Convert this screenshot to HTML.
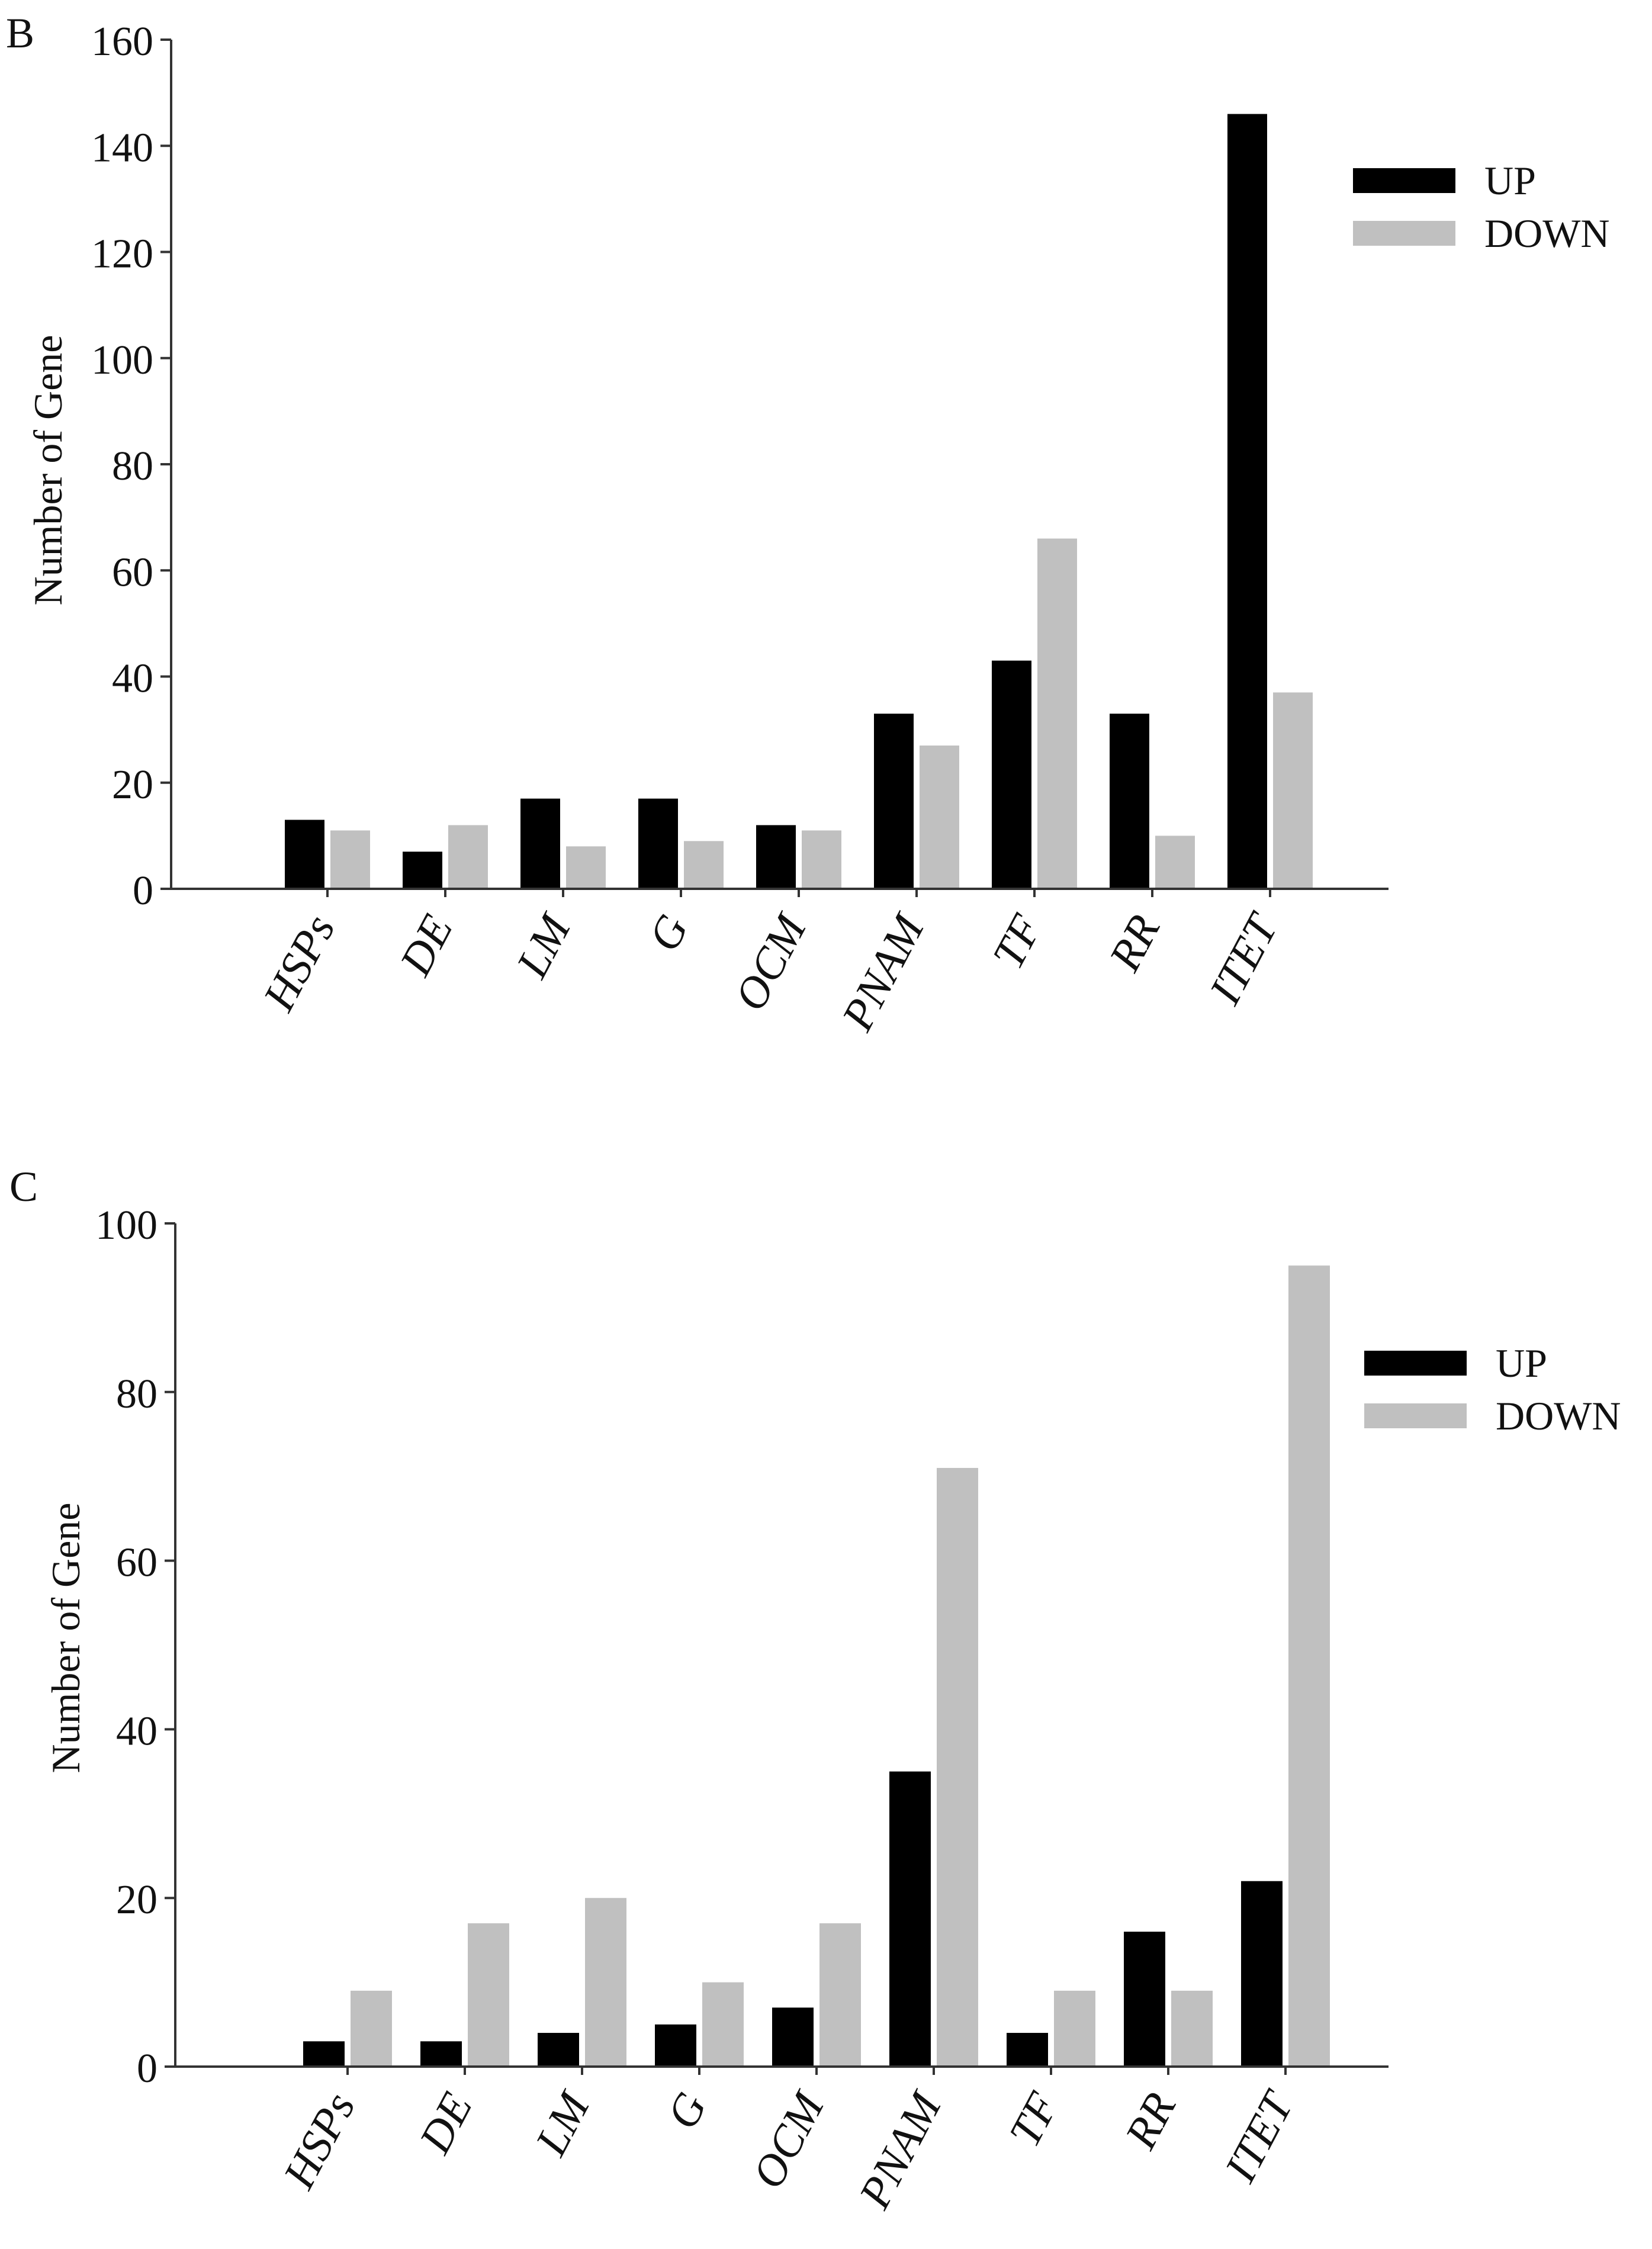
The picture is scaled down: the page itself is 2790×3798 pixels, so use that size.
<!DOCTYPE html>
<html><head><meta charset="utf-8"><style>
html,body{margin:0;padding:0;background:#fff;}
svg{display:block;}
text{font-family:"Liberation Serif",serif;fill:#111;}
</style></head><body>
<svg id="fig" width="2790" height="3798" viewBox="0 0 2790 3798" xmlns="http://www.w3.org/2000/svg">
<text x="10" y="80" font-size="72">B</text>
<text x="16" y="2028" font-size="72">C</text>
</svg>
<script>
const categories = ["HSPs","DE","LM","G","OCM","PNAM","TF","RR","ITET"];
const upB = [13,7,17,17,12,33,43,33,146];
const downB = [11,12,8,9,11,27,66,10,37];
const ticksB = [0,20,40,60,80,100,120,140,160];
const upC = [3,3,4,5,7,35,4,16,22];
const downC = [9,17,20,10,17,71,9,9,95];
const ticksC = [0,20,40,60,80,100];

const NS = "http://www.w3.org/2000/svg";
const svg = document.getElementById('fig');
function mk(tag, attrs, parent){
  const e = document.createElementNS(NS, tag);
  for (const k in attrs) e.setAttribute(k, attrs[k]);
  (parent||svg).appendChild(e);
  return e;
}
function chart(cfg){
  const g = mk('g', {});
  
  
  const maxV = cfg.ticks[cfg.ticks.length-1];
  const y = v => cfg.y0 - (v/maxV)*(cfg.y0-cfg.yTop);
  const xUp = i => cfg.x0 + i*cfg.step;
  categories.forEach((c,i)=>{
    const b1 = mk('rect', {x:xUp(i), y:y(cfg.up[i]), width:cfg.bw, height:cfg.y0-y(cfg.up[i]), fill:'#000'}, g);
    
    
    const b2 = mk('rect', {x:xUp(i)+cfg.bw+cfg.gap, y:y(cfg.down[i]), width:cfg.bw, height:cfg.y0-y(cfg.down[i]), fill:'#c0c0c0'}, g);
    
    
    const tx = xUp(i)+cfg.bw+cfg.gap/2;
    const tk = mk('line', {x1:tx, y1:cfg.y0, x2:tx, y2:cfg.y0+14, stroke:'#333', 'stroke-width':4}, g);
    
    
    const lb = mk('text', {x:tx+14, y:cfg.y0+62, 'font-size':76, 'font-style':'italic', 'text-anchor':'end', transform:`rotate(-62 ${tx+14} ${cfg.y0+62})`}, g);
    lb.textContent = c;
    
    
  });
  const ya = mk('line', {x1:cfg.ax, y1:cfg.yTop, x2:cfg.ax, y2:cfg.y0, stroke:'#333', 'stroke-width':4}, g);
  
  
  const xa = mk('line', {x1:cfg.ax-18, y1:cfg.y0, x2:cfg.xEnd, y2:cfg.y0, stroke:'#333', 'stroke-width':4}, g);
  
  
  cfg.ticks.forEach(t=>{
    const l = mk('line', {x1:cfg.ax-18, y1:y(t), x2:cfg.ax, y2:y(t), stroke:'#333', 'stroke-width':4}, g);
    
    
    const tt = mk('text', {x:cfg.ax-30, y:y(t)+26, 'font-size':70, 'text-anchor':'end'}, g);
    tt.textContent = t;
    
    
  });
  const yl = mk('text', {x:cfg.ylx, y:cfg.yly, 'font-size':68, 'text-anchor':'middle', transform:`rotate(-90 ${cfg.ylx} ${cfg.yly})`}, g);
  yl.textContent = 'Number of Gene';
  
  
  const r1 = mk('rect', {x:cfg.lx, y:cfg.ly, width:173, height:42, fill:'#000'}, g);
  
  
  const t1 = mk('text', {x:cfg.lx+222, y:cfg.ly+44, 'font-size':68}, g);
  t1.textContent = 'UP';
  
  
  const r2 = mk('rect', {x:cfg.lx, y:cfg.ly+89, width:173, height:42, fill:'#c0c0c0'}, g);
  
  
  const t2 = mk('text', {x:cfg.lx+222, y:cfg.ly+133, 'font-size':68}, g);
  t2.textContent = 'DOWN';
  
  
}
chart({name:'chart-b', up:upB, down:downB, ticks:ticksB, ax:289, y0:1501, yTop:67, xEnd:2345,
  x0:481, step:199, bw:67, gap:10, ylx:104, yly:794, lx:2285, ly:284});
chart({name:'chart-c', up:upC, down:downC, ticks:ticksC, ax:296, y0:3490, yTop:2066, xEnd:2345,
  x0:512, step:198, bw:70, gap:10, ylx:134, yly:2766, lx:2304, ly:2281});
</script>
</body></html>
